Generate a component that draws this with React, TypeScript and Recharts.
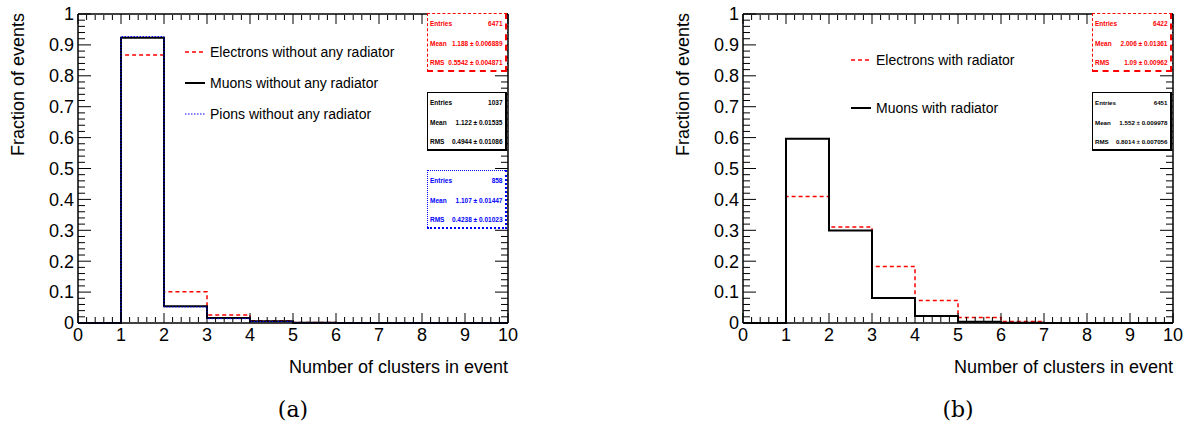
import React from "react";
import { LineChart, Line, XAxis, YAxis, ReferenceLine } from "recharts";

// bin contents, bins [0,1) ... [9,10)
const electronsNoRad = [0, 0.867, 0.101, 0.026, 0.007, 0.002, 0.001, 0, 0, 0];
const muonsNoRad = [0, 0.923, 0.054, 0.016, 0.006, 0.001, 0, 0, 0, 0];
const pionsNoRad = [0, 0.927, 0.052, 0.014, 0.005, 0.001, 0, 0, 0, 0];
const electronsRad = [0, 0.409, 0.311, 0.183, 0.073, 0.018, 0.005, 0.001, 0, 0];
const muonsRad = [0, 0.596, 0.299, 0.081, 0.023, 0.004, 0.001, 0, 0, 0];

const binEdges = [0, 1, 2, 3, 4, 5, 6, 7, 8, 9, 10];
const xMajor = [0, 1, 2, 3, 4, 5, 6, 7, 8, 9, 10];
const yMajor = [0, 0.1, 0.2, 0.3, 0.4, 0.5, 0.6, 0.7, 0.8, 0.9, 1];
const xMinor = xMajor.slice(0, -1).flatMap((v) => [0.2, 0.4, 0.6, 0.8].map((f) => +(v + f).toFixed(1)));
const yMinor = yMajor.slice(0, -1).flatMap((v) => [0.02, 0.04, 0.06, 0.08].map((f) => +(v + f).toFixed(2)));

const statsNoRad = [
  { rows: [["Entries", "6471"], ["Mean", "1.188 ± 0.006889"], ["RMS", "0.5542 ± 0.004871"]] },
  { rows: [["Entries", "1037"], ["Mean", "1.122 ± 0.01535"], ["RMS", "0.4944 ± 0.01086"]] },
  { rows: [["Entries", "858"], ["Mean", "1.107 ± 0.01447"], ["RMS", "0.4238 ± 0.01023"]] },
];
const statsRad = [
  { rows: [["Entries", "6422"], ["Mean", "2.006 ± 0.01361"], ["RMS", "1.09 ± 0.00962"]] },
  { rows: [["Entries", "6451"], ["Mean", "1.552 ± 0.009978"], ["RMS", "0.8014 ± 0.007056"]] },
];

const FONT = "'Liberation Sans', Arial, Helvetica, sans-serif";
const PLOT_LEFT = 78;
const PLOT_RIGHT = 508;
const PLOT_TOP = 14;
const PLOT_BOTTOM = 323;
// x units per pixel, for the inward y tick marks
const X_PER_PX = 10 / (PLOT_RIGHT - PLOT_LEFT);

type Series = {
  key: string;
  label: string;
  values: number[];
  color: string;
  width: number;
  dash?: string;
};

const toSteps = (series: Series[]) =>
  binEdges.map((x, i) => {
    const row: Record<string, number> = { x };
    series.forEach((s) => {
      row[s.key] = s.values[Math.min(i, s.values.length - 1)];
    });
    return row;
  });

// tick lines only, no labels
const NoLabel = () => <g />;

type BoxStyle = { color: string; border: string; bold: boolean; size: number };

const StatBox: React.FC<{ top: number; left: number; rows: string[][]; st: BoxStyle }> = ({
  top,
  left,
  rows,
  st,
}) => (
  <div
    style={{
      position: "absolute",
      top,
      left,
      width: 77,
      height: 56,
      background: "#fff",
      border: st.border,
      borderRightWidth: 2.5,
      borderBottomWidth: 2.5,
      fontFamily: FONT,
      fontSize: st.size,
      fontWeight: st.bold ? "bold" : "normal",
      color: st.color,
    }}
  >
    {rows.map((r, i) => (
      <div
        key={r[0]}
        style={{
          position: "absolute",
          top: 5 + i * 19.5,
          left: 2,
          right: 2.5,
          display: "flex",
          justifyContent: "space-between",
          lineHeight: "10px",
          whiteSpace: "nowrap",
        }}
      >
        <span>{r[0]}</span>
        <span>{r[1]}</span>
      </div>
    ))}
  </div>
);

const LegendRow: React.FC<{ s: Series; top: number; left: number }> = ({ s, top, left }) => (
  <div
    style={{
      position: "absolute",
      top: top - 9,
      left,
      display: "flex",
      alignItems: "center",
      fontFamily: FONT,
      fontSize: 14,
      color: "#000",
      whiteSpace: "nowrap",
      height: 18,
    }}
  >
    <svg width={20} height={4} style={{ marginRight: 5 }}>
      <line x1={0} y1={2} x2={20} y2={2} stroke={s.color} strokeWidth={s.width} strokeDasharray={s.dash} />
    </svg>
    {s.label}
  </div>
);

type PanelProps = {
  left: number;
  width: number;
  series: Series[];
  legendTops: number[];
  legendLeft: number;
  stats: { rows: string[][] }[];
  boxStyles: BoxStyle[];
  boxTops: number[];
  caption: string;
};

const Panel: React.FC<PanelProps> = ({
  left,
  width,
  series,
  legendTops,
  legendLeft,
  stats,
  boxStyles,
  boxTops,
  caption,
}) => {
  const data = toSteps(series);
  const axisProps = { type: "number" as const, domain: [0, 10], interval: 0 as const };
  const yProps = { type: "number" as const, domain: [0, 1], interval: 0 as const };
  const tickFont = { fontSize: 18, fill: "#000", fontFamily: FONT };
  const tl = { stroke: "#000", strokeWidth: 1 };
  // mirrored x axes only carry the inward tick marks of the frame
  const mx = { mirror: true, tick: NoLabel, height: 1, axisLine: false, tickLine: tl };
  const frame = { stroke: "#000", strokeWidth: 1.5 };
  const yTicks = [
    ...yMajor.map((v) => ({ v, len: 13 * X_PER_PX })),
    ...yMinor.map((v) => ({ v, len: 7 * X_PER_PX })),
  ];
  return (
    <div style={{ position: "absolute", left, top: 0, width, height: 429 }}>
      <LineChart
        width={width}
        height={429}
        data={data}
        margin={{ top: PLOT_TOP, right: width - PLOT_RIGHT - 1, bottom: 429 - PLOT_BOTTOM - 30, left: PLOT_LEFT - 60 }}
      >
        <XAxis
          xAxisId="main"
          dataKey="x"
          {...axisProps}
          ticks={xMajor}
          height={30}
          tickLine={false}
          tickSize={0}
          tickMargin={5}
          tick={tickFont}
          axisLine={frame}
        />
        <XAxis xAxisId="bmaj" {...axisProps} {...mx} ticks={xMajor} tickSize={10} />
        <XAxis xAxisId="bmin" {...axisProps} {...mx} ticks={xMinor} tickSize={5} />
        <XAxis xAxisId="tmaj" orientation="top" {...axisProps} {...mx} ticks={xMajor} tickSize={10} axisLine={frame} />
        <XAxis xAxisId="tmin" orientation="top" {...axisProps} {...mx} ticks={xMinor} tickSize={5} />
        <YAxis
          yAxisId="main"
          {...yProps}
          ticks={yMajor}
          width={60}
          tickLine={false}
          tickSize={0}
          tickMargin={4}
          tick={tickFont}
          axisLine={frame}
        />
        <YAxis yAxisId="right" orientation="right" {...yProps} ticks={yMajor} width={1} tickLine={false} tick={NoLabel} axisLine={frame} />
        {/* inward y tick marks on both sides of the frame */}
        {yTicks.map((t) => (
          <ReferenceLine
            key={"l" + t.v}
            xAxisId="main"
            yAxisId="main"
            segment={[
              { x: 0, y: t.v },
              { x: t.len, y: t.v },
            ]}
            stroke="#000"
            strokeWidth={1}
            ifOverflow="visible"
          />
        ))}
        {yTicks.map((t) => (
          <ReferenceLine
            key={"r" + t.v}
            xAxisId="main"
            yAxisId="main"
            segment={[
              { x: 10 - t.len, y: t.v },
              { x: 10, y: t.v },
            ]}
            stroke="#000"
            strokeWidth={1}
            ifOverflow="visible"
          />
        ))}
        {series.map((s) => (
          <Line
            key={s.key}
            xAxisId="main"
            yAxisId="main"
            type="stepAfter"
            dataKey={s.key}
            stroke={s.color}
            strokeWidth={s.width}
            strokeDasharray={s.dash}
            dot={false}
            activeDot={false}
            isAnimationActive={false}
          />
        ))}
      </LineChart>

      {series.map((s, i) => (
        <LegendRow key={s.key} s={s} top={legendTops[i]} left={legendLeft} />
      ))}
      {stats.map((b, i) => (
        <StatBox key={i} top={boxTops[i]} left={427} rows={b.rows} st={boxStyles[i]} />
      ))}

      {/* axis titles */}
      <div
        style={{
          position: "absolute",
          left: 8,
          top: 13,
          width: 20,
          height: 170,
          writingMode: "vertical-rl",
          transform: "rotate(180deg)",
          textAlign: "end",
          fontFamily: FONT,
          fontSize: 18,
          lineHeight: "20px",
          color: "#000",
          whiteSpace: "nowrap",
        }}
      >
        Fraction of events
      </div>
      <div
        style={{
          position: "absolute",
          right: width - PLOT_RIGHT,
          top: 356,
          fontFamily: FONT,
          fontSize: 18,
          color: "#000",
          whiteSpace: "nowrap",
          lineHeight: "22px",
        }}
      >
        Number of clusters in event
      </div>
      <div
        style={{
          position: "absolute",
          left: PLOT_LEFT,
          width: PLOT_RIGHT - PLOT_LEFT,
          top: 396,
          textAlign: "center",
          fontFamily: "'DejaVu Serif', 'Liberation Serif', serif",
          fontSize: 22,
          color: "#000",
          lineHeight: "28px",
        }}
      >
        {caption}
      </div>
    </div>
  );
};

const seriesNoRad: Series[] = [
  { key: "e", label: "Electrons without any radiator", values: electronsNoRad, color: "#ff0000", width: 1.5, dash: "4 3" },
  { key: "mu", label: "Muons without any radiator", values: muonsNoRad, color: "#000000", width: 2 },
  { key: "pi", label: "Pions without any radiator", values: pionsNoRad, color: "#0000ff", width: 1, dash: "1.5 1.5" },
];
const seriesRad: Series[] = [
  { key: "e", label: "Electrons with radiator", values: electronsRad, color: "#ff0000", width: 1.5, dash: "4 3" },
  { key: "mu", label: "Muons with radiator", values: muonsRad, color: "#000000", width: 2 },
];

const redBox: BoxStyle = { color: "#ff0000", border: "1.5px dashed #ff0000", bold: true, size: 6.5 };
const blackBox: BoxStyle = { color: "#000", border: "1.5px solid #000", bold: true, size: 6.5 };
const blueBox: BoxStyle = { color: "#0000ff", border: "1px dotted #0000ff", bold: true, size: 6.5 };
const blackBoxSmall: BoxStyle = { color: "#000", border: "1.5px solid #000", bold: true, size: 6.2 };

const App: React.FC = () => (
  <div style={{ position: "absolute", left: 0, top: 0, width: 1189, height: 429, background: "#fff" }}>
    <Panel
      left={0}
      width={594}
      series={seriesNoRad}
      legendTops={[52, 83, 114]}
      legendLeft={185}
      stats={statsNoRad}
      boxStyles={[redBox, blackBox, blueBox]}
      boxTops={[13, 92, 170]}
      caption="(a)"
    />
    <Panel
      left={665}
      width={524}
      series={seriesRad}
      legendTops={[60, 108]}
      legendLeft={186}
      stats={statsRad}
      boxStyles={[redBox, blackBoxSmall]}
      boxTops={[13, 92]}
      caption="(b)"
    />
  </div>
);

export default App;
